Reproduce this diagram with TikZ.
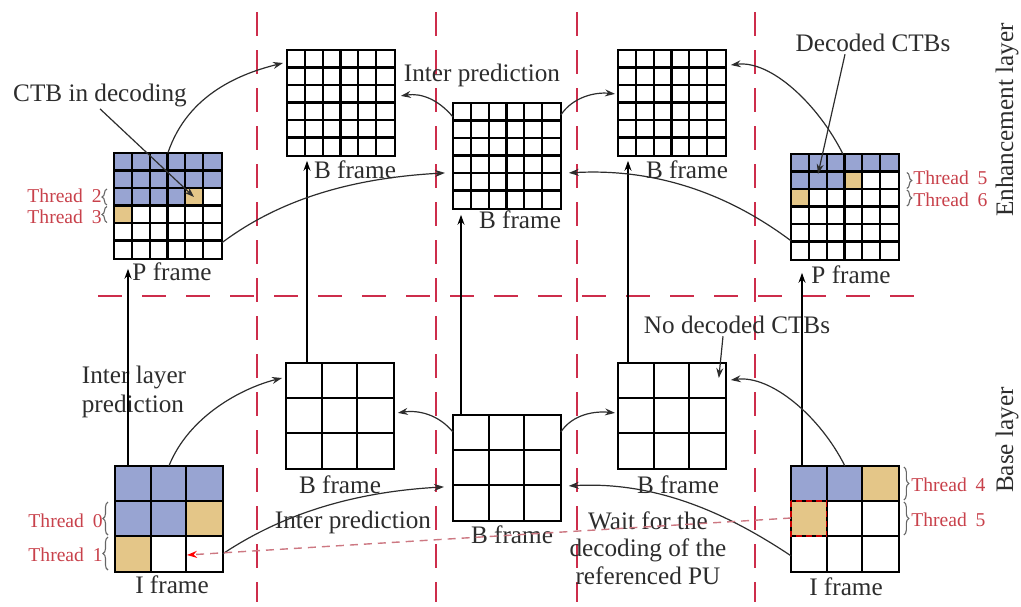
\documentclass[tikz,border=0pt]{standalone}
\usepackage{fontspec}
\setmainfont{Liberation Serif}
\usetikzlibrary{arrows.meta,calc,decorations.pathreplacing}

\definecolor{ctbblue}{RGB}{152,164,210}
\definecolor{ctbgold}{RGB}{228,198,136}
\definecolor{divred}{RGB}{205,45,75}
\definecolor{threadred}{RGB}{200,65,75}
\definecolor{inkgray}{RGB}{45,45,45}
\definecolor{waitpink}{RGB}{205,120,130}

\tikzset{
  ctbframe/.style={
    minimum width=53.5pt, minimum height=52.5pt,
    inner sep=0pt, anchor=north west
  },
  gridline/.style={black, line width=1.05pt},
  framelabel/.style={
    font=\fontsize{12.6}{14}\selectfont, text=inkgray,
    inner sep=1pt
  },
  notelabel/.style={
    font=\fontsize{12.6}{14.5}\selectfont, text=inkgray,
    inner sep=1pt
  },
  threadlabel/.style={
    font=\fontsize{9.8}{11}\selectfont, text=threadred,
    inner sep=0.5pt, text height=7pt, text depth=0pt
  },
  threadbrace/.style={
    decorate, decoration={brace, amplitude=2.5pt},
    draw=gray!80!black, line width=0.55pt
  },
  predarrow/.style={
    -{Stealth[length=5pt,width=3.5pt]},
    draw=inkgray, line width=0.6pt
  },
  layerarrow/.style={
    -{Stealth[length=5pt,width=3.5pt]},
    draw=black, line width=0.8pt
  },
  divider/.style={draw=divred, line width=1pt},
  waitline/.style={
    -{Stealth[length=5pt,width=3.5pt,color=red]},
    draw=waitpink, line width=0.7pt, dash pattern=on 4pt off 3pt
  },
  waitbox/.style={draw=red!80!black, line width=0.6pt, dash pattern=on 3pt off 2pt},
}

% one cell of a CTB grid: frame node, cells per side, column, row, colour
\newcommand{\ctbcell}[5]{%
  \fill[#5] ($(#1.north west)+({(#3-1)*107/#2},{(#4-1)*105/#2})$)
    rectangle +({107/#2},{105/#2});
}
% grid lines and border of a frame: frame node, cells per side
\newcommand{\ctbgrid}[2]{%
  \pgfmathtruncatemacro{\ctbm}{#2-1}
  \foreach \k in {1,...,\ctbm}{
    \draw[gridline] ($(#1.north west)+({\k*107/#2},0)$) -- +(0,105);
    \draw[gridline] ($(#1.north west)+(0,{\k*105/#2})$) -- +(107,0);
  }
  \draw[gridline] (#1.north west) rectangle (#1.south east);
}

\begin{document}
\begin{tikzpicture}[x=0.5pt, y=-0.5pt]
\useasboundingbox (0,0) rectangle (1021,606);

%% Frames, enhancement layer (6x6 CTBs)
\node[ctbframe] (pL)  at (114,153) {};
\node[ctbframe] (bTL) at (287,50)  {};
\node[ctbframe] (bTM) at (453,103) {};
\node[ctbframe] (bTR) at (618,50)  {};
\node[ctbframe] (pR)  at (791,154) {};

%% Frames, base layer (3x3 CTBs)
\node[ctbframe] (iL)  at (115,466) {};
\node[ctbframe] (bBL) at (286,363) {};
\node[ctbframe] (bBM) at (453,415) {};
\node[ctbframe] (bBR) at (618,363) {};
\node[ctbframe] (iR)  at (791,466) {};

%% Decoded / in-decoding CTBs
\foreach \c in {1,...,6}{
  \ctbcell{pL}{6}{\c}{1}{ctbblue}
  \ctbcell{pL}{6}{\c}{2}{ctbblue}
  \ctbcell{pR}{6}{\c}{1}{ctbblue}
}
\foreach \c in {1,...,4}{\ctbcell{pL}{6}{\c}{3}{ctbblue}}
\ctbcell{pL}{6}{5}{3}{ctbgold}
\ctbcell{pL}{6}{1}{4}{ctbgold}
\foreach \c in {1,...,3}{\ctbcell{pR}{6}{\c}{2}{ctbblue}}
\ctbcell{pR}{6}{4}{2}{ctbgold}
\ctbcell{pR}{6}{1}{3}{ctbgold}

\foreach \c in {1,...,3}{\ctbcell{iL}{3}{\c}{1}{ctbblue}}
\ctbcell{iL}{3}{1}{2}{ctbblue}
\ctbcell{iL}{3}{2}{2}{ctbblue}
\ctbcell{iL}{3}{3}{2}{ctbgold}
\ctbcell{iL}{3}{1}{3}{ctbgold}
\ctbcell{iR}{3}{1}{1}{ctbblue}
\ctbcell{iR}{3}{2}{1}{ctbblue}
\ctbcell{iR}{3}{3}{1}{ctbgold}
\ctbcell{iR}{3}{1}{2}{ctbgold}

%% Grids
\ctbgrid{pL}{6}
\ctbgrid{bTL}{6}
\ctbgrid{bTM}{6}
\ctbgrid{bTR}{6}
\ctbgrid{pR}{6}
\ctbgrid{iL}{3}
\ctbgrid{bBL}{3}
\ctbgrid{bBM}{3}
\ctbgrid{bBR}{3}
\ctbgrid{iR}{3}

%% Red dashed dividers
\foreach \x in {257,436,577,755}
  \draw[divider, dash pattern=on 12pt off 7pt] (\x,12) -- (\x,602);
\draw[divider, dash pattern=on 12pt off 10pt] (98,296) -- (928,296);

%% Frame labels
\node[framelabel] (pLlab)  at (172,272) {P frame};
\node[framelabel] (bTLlab) at (355,170) {B frame};
\node[framelabel] (bTMlab) at (520,220) {B frame};
\node[framelabel] (bTRlab) at (687,170) {B frame};
\node[framelabel] (pRlab)  at (851,275) {P frame};
\node[framelabel] (iLlab)  at (172,585) {I frame};
\node[framelabel] (bBLlab) at (340,485) {B frame};
\node[framelabel] (bBMlab) at (512,535) {B frame};
\node[framelabel] (bBRlab) at (678,485) {B frame};
\node[framelabel] (iRlab)  at (846,587) {I frame};

%% Layer labels
\node[framelabel, rotate=90] (enhlab)  at (1007,120) {Enhancement layer};
\node[framelabel, rotate=90] (baselab) at (1007,440) {Base layer};

%% Notes
\node[notelabel] (interTop) at (482,75)  {Inter prediction};
\node[notelabel] (interBot) at (353,522) {Inter prediction};
\node[notelabel, align=left] (interLayer) at (134,392) {Inter layer\\prediction};
\node[notelabel, align=center, font=\fontsize{12.6}{13.8}\selectfont] (waitNote) at (648,548)
  {Wait for the\\decoding of the\\referenced PU};
\node[notelabel] (ctbDec)   at (100,95)  {CTB in decoding};
\node[notelabel] (decoded)  at (873,43)  {Decoded CTBs};
\node[notelabel] (noDec)    at (737,325) {No decoded CTBs};

%% Thread braces
\draw[threadbrace] ($(pL.north west)+(-7,52)$) -- ($(pL.north west)+(-7,36)$);
\draw[threadbrace] ($(pL.north west)+(-7,69.5)$) -- ($(pL.north west)+(-7,53.5)$);
\node[threadlabel, anchor=east] (th2) at (103,195) {Thread\hspace{0.45em}2};
\node[threadlabel, anchor=east] (th3) at (103,216) {Thread\hspace{0.45em}3};

\draw[threadbrace] ($(iL.north west)+(-7,69)$) -- ($(iL.north west)+(-7,36)$);
\draw[threadbrace] ($(iL.north west)+(-7,104)$) -- ($(iL.north west)+(-7,71)$);
\node[threadlabel, anchor=east] (th0) at (104,520) {Thread\hspace{0.45em}0};
\node[threadlabel, anchor=east] (th1) at (104,554) {Thread\hspace{0.45em}1};

\draw[threadbrace] ($(pR.north east)+(8,18.5)$) -- ($(pR.north east)+(8,34.5)$);
\draw[threadbrace] ($(pR.north east)+(8,36)$) -- ($(pR.north east)+(8,52)$);
\node[threadlabel, anchor=west] (th5e) at (912,177) {Thread\hspace{0.45em}5};
\node[threadlabel, anchor=west] (th6)  at (912,199) {Thread\hspace{0.45em}6};

\draw[threadbrace] ($(iR.north east)+(5,1)$) -- ($(iR.north east)+(5,34)$);
\draw[threadbrace] ($(iR.north east)+(5,36)$) -- ($(iR.north east)+(5,69)$);
\node[threadlabel, anchor=west] (th4)  at (910,484) {Thread\hspace{0.45em}4};
\node[threadlabel, anchor=west] (th5b) at (910,519) {Thread\hspace{0.45em}5};

%% Inter layer prediction (base -> enhancement)
\draw[layerarrow] ($(iL.north west)+(13,0)$)  -- ($(pL.south west)+(14,10)$);
\draw[layerarrow] ($(bBL.north west)+(21,0)$) -- ($(bTL.south west)+(20,5)$);
\draw[layerarrow] ($(bBM.north west)+(8,0)$)  -- ($(bTM.south west)+(8,6)$);
\draw[layerarrow] ($(bBR.north west)+(10,0)$) -- ($(bTR.south west)+(10,5)$);
\draw[layerarrow] ($(iR.north west)+(11,0)$)  -- ($(pR.south west)+(11,13)$);

%% Inter prediction, enhancement layer
\draw[predarrow] (pL.north) .. controls +(20,-60) and +(-40,10) .. ($(bTL.north west)+(-4,13)$);
\draw[predarrow] ($(pL.south east)+(0,-16)$) .. controls +(60,-45) and +(-90,5) .. ($(bTM.west)+(-8,17)$);
\draw[predarrow] ($(bTM.north west)+(0,14)$) .. controls +(-15,-18) and +(20,-3) .. ($(bTL.east)+(6,-7)$);
\draw[predarrow] ($(bTM.north east)+(0,12)$) .. controls +(12,-18) and +(-20,-2) .. ($(bTR.west)+(-3,-9)$);
\draw[predarrow] ($(pR.north)+(-2,0)$) .. controls +(-25,-50) and +(40,-5) .. ($(bTR.north east)+(5,15)$);
\draw[predarrow] ($(pR.south west)+(0,-19)$) .. controls +(-60,-45) and +(90,-5) .. ($(bTM.east)+(8,17)$);

%% Inter prediction, base layer
\draw[predarrow] (iL.north) .. controls +(20,-50) and +(-40,10) .. ($(bBL.north west)+(-4,15)$);
\draw[predarrow] ($(iL.south east)+(0,-18)$) .. controls +(60,-40) and +(-90,5) .. ($(bBM.west)+(-9,19)$);
\draw[predarrow] ($(bBM.north west)+(0,17)$) .. controls +(-15,-18) and +(20,-3) .. ($(bBL.east)+(4,-3)$);
\draw[predarrow] ($(bBM.north east)+(0,17)$) .. controls +(12,-18) and +(-20,-2) .. ($(bBR.west)+(-3,-3)$);
\draw[predarrow] (iR.north) .. controls +(-25,-50) and +(40,-5) .. ($(bBR.north east)+(5,17)$);
\draw[predarrow] ($(iR.south west)+(0,-16)$) .. controls +(-60,-40) and +(90,-5) .. ($(bBM.east)+(8,18)$);

%% Note pointers
\draw[predarrow] (ctbDec.south) -- ($(pL.north west)+(80,44)$);
\draw[predarrow] ($(decoded.south)+(-28,0)$) -- ($(pR.north west)+(27,20)$);
\draw[predarrow] ($(noDec.south)+(-14,0)$) -- ($(bBR.north east)+(-7,15)$);

%% Wait for the referenced PU
\draw[waitbox] ($(iR.north west)+(0,35)$) rectangle +(35.7,35);
\draw[waitline] ($(iR.north west)+(0,52)$) -- ($(iL.north west)+(72,89)$);

\end{tikzpicture}
\end{document}
